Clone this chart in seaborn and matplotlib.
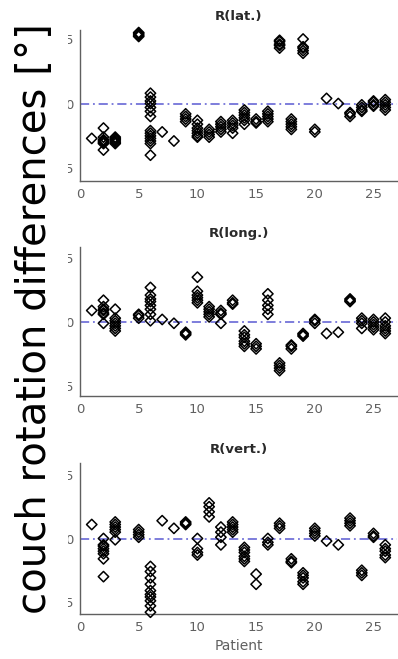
import matplotlib
matplotlib.use("Agg")
import matplotlib.pyplot as plt
from matplotlib.transforms import Bbox, TransformedBbox
import seaborn as sns
import pandas as pd

# Couch rotation differences per patient and fraction (degrees)
lat_values = {
    1: [-0.27],
    2: [-0.19, -0.26, -0.28, -0.29, -0.30, -0.31, -0.36],
    3: [-0.26, -0.27, -0.28, -0.29, -0.30, -0.31],
    5: [0.55, 0.54, 0.53, 0.52],
    6: [0.08, 0.05, 0.02, 0.0, -0.03, -0.06, -0.10, -0.21, -0.23, -0.25,
        -0.27, -0.29, -0.31, -0.40],
    7: [-0.22],
    8: [-0.29],
    9: [-0.08, -0.10, -0.12, -0.14],
    10: [-0.13, -0.16, -0.19, -0.21, -0.23, -0.25, -0.26],
    11: [-0.20, -0.22, -0.24, -0.26],
    12: [-0.14, -0.16, -0.18, -0.20, -0.22],
    13: [-0.13, -0.15, -0.17, -0.19, -0.23],
    14: [-0.05, -0.07, -0.09, -0.11, -0.13, -0.16],
    15: [-0.12, -0.14, -0.15],
    16: [-0.06, -0.08, -0.10, -0.12, -0.14],
    17: [0.49, 0.48, 0.46, 0.45, 0.43],
    18: [-0.12, -0.14, -0.16, -0.18, -0.20],
    19: [0.50, 0.44, 0.43, 0.41, 0.39],
    20: [-0.20, -0.22],
    21: [0.04],
    22: [0.0],
    23: [-0.07, -0.08, -0.10],
    24: [-0.01, -0.03, -0.05, -0.06],
    25: [0.02, 0.01, -0.01, -0.02],
    26: [0.03, 0.01, -0.01, -0.03, -0.05],
}

long_values = {
    1: [0.09],
    2: [0.17, 0.12, 0.10, 0.09, 0.07, 0.06, -0.01],
    3: [0.10, 0.03, 0.01, -0.01, -0.03, -0.05, -0.07],
    5: [0.06, 0.05, 0.03],
    6: [0.27, 0.21, 0.18, 0.16, 0.13, 0.10, 0.06, 0.01],
    7: [0.02],
    8: [-0.01],
    9: [-0.08, -0.09, -0.10],
    10: [0.35, 0.24, 0.21, 0.19, 0.17, 0.15],
    11: [0.12, 0.10, 0.08, 0.06, 0.04],
    12: [0.09, 0.07, 0.06, -0.01],
    13: [0.17, 0.15, 0.14],
    14: [-0.07, -0.10, -0.12, -0.15, -0.17, -0.19],
    15: [-0.17, -0.19, -0.21],
    16: [0.22, 0.17, 0.13, 0.10, 0.06],
    17: [-0.32, -0.34, -0.36, -0.38],
    18: [-0.18, -0.19, -0.21],
    19: [-0.09, -0.10, -0.11],
    20: [0.02, 0.01, -0.01],
    21: [-0.09],
    22: [-0.08],
    23: [0.18, 0.17, 0.16],
    24: [0.03, 0.01, -0.01, -0.05],
    25: [0.02, 0.0, -0.02, -0.04, -0.06],
    26: [0.03, 0.0, -0.03, -0.05, -0.07, -0.09],
}

vert_values = {
    1: [0.11],
    2: [0.0, -0.05, -0.06, -0.08, -0.10, -0.12, -0.16, -0.30],
    3: [0.13, 0.11, 0.09, 0.07, 0.05, -0.01],
    5: [0.07, 0.05, 0.03, 0.01],
    6: [-0.22, -0.26, -0.31, -0.36, -0.41, -0.44, -0.46, -0.49, -0.53, -0.58],
    7: [0.14],
    8: [0.08],
    9: [0.13, 0.12, 0.11],
    10: [0.0, -0.08, -0.11, -0.13],
    11: [0.28, 0.25, 0.21, 0.17],
    12: [0.09, 0.05, 0.01, -0.05],
    13: [0.13, 0.11, 0.09, 0.07, 0.05],
    14: [-0.07, -0.09, -0.11, -0.14, -0.16, -0.18],
    15: [-0.28, -0.36],
    16: [0.0, -0.03, -0.05],
    17: [0.12, 0.10, 0.08],
    18: [-0.16, -0.18, -0.19],
    19: [-0.27, -0.29, -0.31, -0.34, -0.36],
    20: [0.08, 0.06, 0.04, 0.02],
    21: [-0.02],
    22: [-0.05],
    23: [0.16, 0.14, 0.12, 0.10],
    24: [-0.25, -0.27, -0.29],
    25: [0.04, 0.02, 0.01],
    26: [-0.05, -0.08, -0.10, -0.13, -0.15],
}

panel_titles = ["R(lat.)", "R(long.)", "R(vert.)"]
panel_data = [lat_values, long_values, vert_values]
x_ticks = [0, 5, 10, 15, 20, 25]
y_ticks = [-0.5, 0, 0.5]
y_tick_labels = ["5", "0", "5"]


def to_frame(values):
    rows = [(p, v) for p, vals in values.items() for v in vals]
    return pd.DataFrame(rows, columns=["Patient", "diff"])


sns.set_style("white")
plt.rcParams["font.family"] = ["DejaVu Sans"]

W, H = 398, 659
fig = plt.figure(figsize=(W / 100, H / 100), dpi=100)

# axes boxes in pixels: (top, bottom)
boxes = [(30, 181), (247, 396), (463, 614)]
ylims = [(-0.60, 0.57), (-0.578, 0.586), (-0.594, 0.594)]
left_px, right_px = 80, 397

grey = "#606060"
axes = []
for (top, bot), ylim, title, values in zip(boxes, ylims, panel_titles, panel_data):
    ax = fig.add_axes([left_px / W, 1 - bot / H, (right_px - left_px) / W, (bot - top) / H])
    df = to_frame(values)
    sns.scatterplot(data=df, x="Patient", y="diff", ax=ax, marker="D", s=28,
                    facecolors="none", edgecolor="black", linewidth=1.1,
                    clip_on=False, zorder=3)
    ax.axhline(0, color="#5a5ad2", lw=1.1, ls=(0, (6, 2.5, 1.2, 2.5)), zorder=2)
    ax.set_xlim(0, 27)
    ax.set_ylim(*ylim)
    ax.set_xticks(x_ticks)
    ax.set_yticks(y_ticks, y_tick_labels)
    ax.set_xlabel("")
    ax.set_ylabel("")
    ax.set_title(title, fontsize=9.5, fontweight="bold", color="#2a2a2a", pad=7)
    for side in ("top", "right"):
        ax.spines[side].set_visible(False)
    for side in ("left", "bottom"):
        ax.spines[side].set_color(grey)
        ax.spines[side].set_linewidth(1.0)
    ax.tick_params(direction="in", length=3, width=0.8, color=grey,
                   labelcolor=grey, labelsize=9.5, pad=5)
    axes.append(ax)

axes[-1].set_xlabel("Patient", fontsize=10, color=grey, labelpad=4)

fig.text(0.088, 0.516, "couch rotation differences [°]", rotation=90,
         ha="center", va="center", fontsize=29, color="black")

# the tick-label column is trimmed on its left edge
fig.canvas.draw()
clip = TransformedBbox(Bbox([[68 / W, 0], [1, 1]]), fig.transFigure)
for ax in axes:
    for lbl in ax.get_yticklabels():
        lbl.set_clip_box(clip)
        lbl.set_clip_on(True)

fig.savefig("out.png", dpi=100, facecolor="white")
